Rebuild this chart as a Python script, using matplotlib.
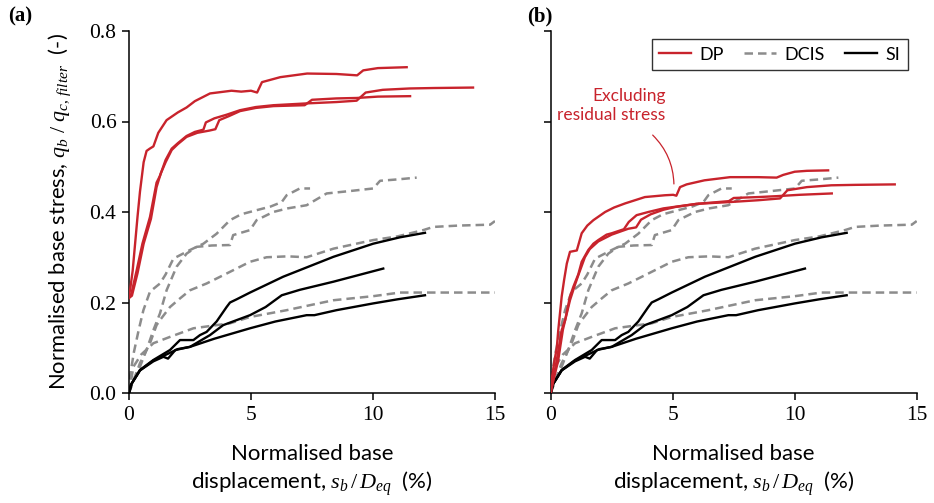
import matplotlib
matplotlib.use("Agg")
import matplotlib.pyplot as plt
from matplotlib.lines import Line2D

# ---------------- data ----------------
# Panel (a): DP including residual stress
dp_a1_x = [0.0, 0.05, 0.15, 0.25, 0.35, 0.45, 0.6, 0.72, 0.85, 1.0, 1.2, 1.54, 2.0, 2.36, 2.7, 3.32, 4.2, 4.6, 5.0, 5.25, 5.45, 6.2, 7.3, 8.5, 9.35, 9.6, 10.2, 11.38]
dp_a1_y = [0.215, 0.23, 0.27, 0.33, 0.39, 0.445, 0.51, 0.535, 0.54, 0.545, 0.575, 0.603, 0.62, 0.631, 0.645, 0.662, 0.668, 0.666, 0.668, 0.664, 0.687, 0.698, 0.706, 0.705, 0.702, 0.713, 0.718, 0.720]
dp_a2_x = [0.0, 0.1, 0.31, 0.55, 0.86, 1.13, 1.27, 1.5, 1.75, 2.0, 2.36, 2.7, 3.05, 3.15, 3.5, 4.0, 4.55, 5.2, 5.92, 6.6, 7.28, 8.5, 9.33, 9.7, 10.4, 11.5, 12.5, 14.1]
dp_a2_y = [0.21, 0.22, 0.27, 0.33, 0.389, 0.465, 0.48, 0.515, 0.54, 0.552, 0.568, 0.577, 0.582, 0.598, 0.607, 0.615, 0.625, 0.632, 0.636, 0.638, 0.640, 0.643, 0.646, 0.664, 0.670, 0.673, 0.674, 0.675]
dp_a3_x = [0.0, 0.12, 0.35, 0.6, 0.9, 1.13, 1.3, 1.5, 1.75, 2.0, 2.36, 2.8, 3.3, 3.54, 3.7, 4.1, 4.55, 5.2, 5.92, 7.2, 7.5, 8.5, 9.33, 10.2, 11.52]
dp_a3_y = [0.21, 0.215, 0.265, 0.33, 0.385, 0.455, 0.485, 0.51, 0.537, 0.55, 0.566, 0.575, 0.58, 0.583, 0.603, 0.612, 0.623, 0.63, 0.634, 0.636, 0.648, 0.651, 0.652, 0.655, 0.656]

# Panel (b): DP excluding residual stress
dp_b1_x = [0.0, 0.04, 0.15, 0.25, 0.31, 0.45, 0.55, 0.66, 0.79, 1.07, 1.27, 1.5, 1.75, 2.23, 2.6, 3.05, 3.86, 4.68, 5.02, 5.15, 5.3, 5.57, 6.3, 7.35, 8.5, 9.26, 9.53, 10.0, 10.5, 11.37]
dp_b1_y = [0.0, 0.03, 0.07, 0.10, 0.139, 0.213, 0.25, 0.286, 0.312, 0.315, 0.353, 0.37, 0.382, 0.40, 0.41, 0.419, 0.433, 0.437, 0.438, 0.436, 0.455, 0.461, 0.47, 0.477, 0.477, 0.476, 0.482, 0.489, 0.491, 0.492]
dp_b2_x = [0.0, 0.1, 0.25, 0.45, 0.59, 0.79, 0.93, 1.13, 1.27, 1.54, 1.75, 1.95, 2.29, 2.5, 3.0, 3.2, 3.52, 4.0, 4.62, 5.98, 7.35, 8.5, 9.4, 9.7, 10.5, 11.5, 12.5, 14.1]
dp_b2_y = [0.0, 0.03, 0.073, 0.139, 0.161, 0.213, 0.235, 0.262, 0.29, 0.316, 0.33, 0.338, 0.35, 0.353, 0.362, 0.378, 0.393, 0.40, 0.408, 0.418, 0.422, 0.426, 0.43, 0.448, 0.455, 0.459, 0.46, 0.461]
dp_b3_x = [0.0, 0.12, 0.3, 0.5, 0.79, 1.0, 1.13, 1.4, 1.6, 1.95, 2.5, 3.18, 3.5, 3.7, 4.1, 4.62, 5.1, 5.98, 7.3, 7.5, 8.5, 9.26, 10.2, 11.52]
dp_b3_y = [0.0, 0.03, 0.07, 0.14, 0.205, 0.24, 0.26, 0.3, 0.318, 0.335, 0.35, 0.363, 0.366, 0.383, 0.395, 0.405, 0.411, 0.418, 0.424, 0.431, 0.433, 0.435, 0.438, 0.441]

# DCIS (both panels)
dcis1_x = [0.0, 0.04, 0.2, 0.4, 0.59, 0.86, 1.27, 1.5, 1.82, 2.5, 3.05, 3.59, 4.14, 4.6, 5.23, 5.8, 6.26, 6.46, 7.0, 7.42]
dcis1_y = [0.0, 0.036, 0.09, 0.14, 0.183, 0.224, 0.242, 0.262, 0.297, 0.316, 0.33, 0.352, 0.382, 0.395, 0.404, 0.412, 0.422, 0.437, 0.452, 0.452]
dcis2_x = [0.0, 0.2, 0.45, 0.75, 1.0, 1.27, 1.54, 1.95, 2.36, 2.77, 3.4, 4.14, 4.27, 4.96, 5.23, 5.91, 6.5, 7.28, 8.1, 9.0, 10.01, 10.29, 11.0, 11.79]
dcis2_y = [0.0, 0.03, 0.058, 0.1, 0.139, 0.176, 0.227, 0.279, 0.308, 0.323, 0.326, 0.327, 0.349, 0.36, 0.382, 0.40, 0.408, 0.415, 0.441, 0.446, 0.452, 0.469, 0.472, 0.476]
dcis3_x = [0.0, 0.2, 0.45, 0.86, 1.13, 1.27, 1.68, 2.09, 2.5, 3.18, 4.0, 4.96, 5.64, 6.5, 7.28, 8.38, 10.01, 11.0, 12.06, 12.47, 13.5, 14.8, 15.0]
dcis3_y = [0.0, 0.03, 0.066, 0.11, 0.15, 0.161, 0.19, 0.209, 0.227, 0.242, 0.264, 0.29, 0.30, 0.302, 0.30, 0.319, 0.338, 0.346, 0.36, 0.367, 0.37, 0.372, 0.38]
dcis4_x = [0.0, 0.18, 0.5, 1.0, 1.68, 2.64, 3.59, 4.14, 4.96, 6.46, 7.5, 8.38, 10.01, 11.1, 12.0, 13.5, 15.0]
dcis4_y = [0.0, 0.058, 0.085, 0.11, 0.124, 0.143, 0.150, 0.154, 0.168, 0.183, 0.195, 0.205, 0.214, 0.222, 0.222, 0.222, 0.222]

# SI (both panels)
si1_x = [0.0, 0.1, 0.45, 1.0, 1.68, 2.09, 2.64, 2.91, 3.18, 3.59, 4.0, 4.14, 4.41, 4.96, 6.32, 8.38, 10.01, 11.1, 12.13]
si1_y = [0.0, 0.02, 0.051, 0.073, 0.095, 0.117, 0.117, 0.128, 0.135, 0.158, 0.19, 0.200, 0.207, 0.222, 0.257, 0.301, 0.330, 0.344, 0.354]
si2_x = [0.0, 0.1, 0.45, 1.0, 1.41, 1.6, 1.9, 2.5, 3.32, 3.86, 4.96, 5.6, 6.26, 7.0, 8.38, 10.42]
si2_y = [0.0, 0.02, 0.05, 0.07, 0.08, 0.076, 0.095, 0.102, 0.128, 0.150, 0.172, 0.19, 0.216, 0.228, 0.246, 0.275]
si3_x = [0.0, 0.1, 0.45, 1.0, 1.41, 2.0, 2.5, 3.5, 4.96, 6.0, 7.28, 7.6, 8.5, 10.01, 11.0, 12.13]
si3_y = [0.0, 0.02, 0.05, 0.072, 0.082, 0.097, 0.102, 0.12, 0.143, 0.158, 0.172, 0.172, 0.183, 0.198, 0.207, 0.216]

x_ticks = [0, 5, 10, 15]
y_ticks = [0.0, 0.2, 0.4, 0.6, 0.8]
y_tick_labels = ["0.0", "0.2", "0.4", "0.6", "0.8"]
panel_labels = ["(a)", "(b)"]
legend_labels = ["DP", "DCIS", "SI"]
annotation_text = "Excluding\nresidual stress"

# ---------------- style ----------------
RED = "#c8232c"
GREY = "#8c8c8c"
BLACK = "#000000"
SANS = "Lato"
SERIF = "Liberation Serif"

plt.rcParams["font.family"] = [SANS, "DejaVu Sans"]
plt.rcParams["mathtext.fontset"] = "custom"
plt.rcParams["mathtext.rm"] = SERIF
plt.rcParams["mathtext.it"] = SERIF + ":italic"
plt.rcParams["mathtext.bf"] = SERIF + ":bold"

fig = plt.figure(figsize=(9.34, 5.03), dpi=100)
W, H = 934, 503
ax_a = fig.add_axes([129 / W, 1 - 393 / H, 366 / W, 362 / H])
ax_b = fig.add_axes([550.7 / W, 1 - 393 / H, 366 / W, 362 / H])

dp_sets = {
    ax_a: [(dp_a1_x, dp_a1_y), (dp_a2_x, dp_a2_y), (dp_a3_x, dp_a3_y)],
    ax_b: [(dp_b1_x, dp_b1_y), (dp_b2_x, dp_b2_y), (dp_b3_x, dp_b3_y)],
}
dcis_set = [(dcis1_x, dcis1_y), (dcis2_x, dcis2_y), (dcis3_x, dcis3_y), (dcis4_x, dcis4_y)]
si_set = [(si1_x, si1_y), (si2_x, si2_y), (si3_x, si3_y)]

lw = 1.7
dash = (0, (3.4, 2.0))
for ax in (ax_a, ax_b):
    for x, y in dcis_set:
        ax.plot(x, y, color=GREY, lw=1.8, linestyle=dash, zorder=2)
    for x, y in si_set:
        ax.plot(x, y, color=BLACK, lw=lw, zorder=3)
    for x, y in dp_sets[ax]:
        ax.plot(x, y, color=RED, lw=lw, zorder=4)

    ax.set_xlim(0, 15)
    ax.set_ylim(0, 0.8)
    ax.set_xticks(x_ticks)
    ax.set_yticks(y_ticks)
    for s in ("top", "right"):
        ax.spines[s].set_visible(False)
    for s in ("left", "bottom"):
        ax.spines[s].set_linewidth(1.1)
    ax.tick_params(direction="out", length=5, width=1.1, labelsize=15.5, pad=4)
    for lab in ax.get_xticklabels() + ax.get_yticklabels():
        lab.set_fontfamily(SERIF)
    ax.set_xlabel("Normalised base\ndisplacement, $s_b\\,/\\,D_{eq}$  (%)",
                  fontsize=16, labelpad=14, linespacing=1.3)

ax_a.set_yticklabels(y_tick_labels)
ax_b.set_yticklabels([])
for lab in ax_a.get_yticklabels():
    lab.set_fontfamily(SERIF)
ax_a.set_ylabel("Normalised base stress, $q_b\\ /\\ q_{c,\\,filter}$  (-)",
                fontsize=15.8, labelpad=12)

# panel labels
fig.text(8 / W, 1 - 16 / H, panel_labels[0], fontsize=15, fontweight="bold",
         family=SERIF, va="center", ha="left")
fig.text(527 / W, 1 - 16 / H, panel_labels[1], fontsize=15, fontweight="bold",
         family=SERIF, va="center", ha="left")

# legend
handles = [Line2D([], [], color=RED, lw=lw),
           Line2D([], [], color=GREY, lw=1.8, linestyle=dash),
           Line2D([], [], color=BLACK, lw=lw)]
leg = ax_b.legend(handles, legend_labels, loc="upper right", ncol=3,
                  fontsize=13, frameon=True, fancybox=False,
                  handlelength=1.75, columnspacing=1.1, handletextpad=0.5,
                  borderpad=0.4, borderaxespad=0.0,
                  bbox_to_anchor=(0.975, 0.977))
leg.get_frame().set_edgecolor("black")
leg.get_frame().set_linewidth(1.0)

# annotation
ax_b.text(4.7, 0.635, annotation_text, ha="right", va="center", color=RED,
          fontsize=12.5, linespacing=1.2)
ax_b.annotate("", xy=(5.05, 0.462), xytext=(4.18, 0.57),
              arrowprops=dict(arrowstyle="-", color=RED, lw=0.9,
                              shrinkA=0, shrinkB=0,
                              connectionstyle="arc3,rad=-0.2"))

fig.savefig("out.png", dpi=100)
